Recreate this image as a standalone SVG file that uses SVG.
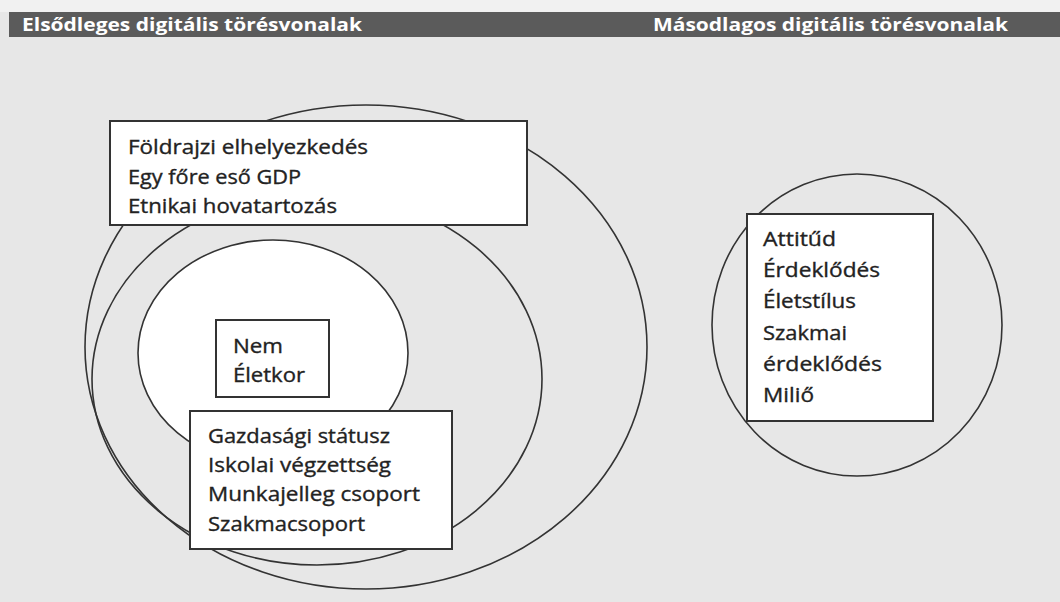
<svg xmlns="http://www.w3.org/2000/svg" width="1060" height="602" viewBox="0 0 1060 602">
  <style>
    .bg { fill: #e7e7e7; }
    .ring { fill: none; stroke: #333333; stroke-width: 1.6; }
    .core { fill: #ffffff; stroke: #333333; stroke-width: 1.6; }
    .box { fill: #ffffff; stroke: #333333; stroke-width: 2; }
    .t { font-family: "Open Sans", "Noto Sans", "Liberation Sans", sans-serif; font-size: 20px; fill: #222222; stroke: #222222; stroke-width: 0.35; }
    .h { font-family: "Open Sans", "Noto Sans", "Liberation Sans", sans-serif; font-size: 18px; font-weight: bold; fill: #ffffff; }
  </style>
  <rect class="bg" x="0" y="0" width="1060" height="602"/>
  <rect x="0" y="0" width="1060" height="12" fill="#f1f1f1"/>
  <g id="header">
    <rect x="9" y="12" width="1051" height="25" fill="#5b5b5b"/>
    <text class="h" x="22" y="31" textLength="340" lengthAdjust="spacingAndGlyphs">Elsődleges digitális törésvonalak</text>
    <text class="h" x="653" y="31" textLength="355" lengthAdjust="spacingAndGlyphs">Másodlagos digitális törésvonalak</text>
  </g>
  <g id="outer-ring">
    <ellipse class="ring" cx="366" cy="347" rx="281" ry="242"/>
  </g>
  <g id="middle-ring">
    <ellipse class="ring" cx="317" cy="379" rx="225" ry="186"/>
  </g>
  <g id="inner-core">
    <ellipse class="core" cx="273" cy="353" rx="135" ry="113"/>
  </g>
  <g id="secondary-ring">
    <ellipse class="ring" cx="857" cy="325" rx="145" ry="151"/>
  </g>
  <g id="node-geo">
    <rect class="box" x="110" y="121" width="417" height="104"/>
    <text class="t" x="128" y="154" textLength="240" lengthAdjust="spacingAndGlyphs">Földrajzi elhelyezkedés</text>
    <text class="t" x="128" y="184" textLength="173" lengthAdjust="spacingAndGlyphs">Egy főre eső GDP</text>
    <text class="t" x="128" y="213" textLength="209" lengthAdjust="spacingAndGlyphs">Etnikai hovatartozás</text>
  </g>
  <g id="node-core">
    <rect class="box" x="216" y="320" width="113" height="77"/>
    <text class="t" x="233" y="353" textLength="50" lengthAdjust="spacingAndGlyphs">Nem</text>
    <text class="t" x="233" y="382" textLength="72" lengthAdjust="spacingAndGlyphs">Életkor</text>
  </g>
  <g id="node-econ">
    <rect class="box" x="190" y="411" width="262" height="138"/>
    <text class="t" x="208" y="443" textLength="182" lengthAdjust="spacingAndGlyphs">Gazdasági státusz</text>
    <text class="t" x="208" y="472" textLength="183" lengthAdjust="spacingAndGlyphs">Iskolai végzettség</text>
    <text class="t" x="208" y="501" textLength="212" lengthAdjust="spacingAndGlyphs">Munkajelleg csoport</text>
    <text class="t" x="208" y="531" textLength="157" lengthAdjust="spacingAndGlyphs">Szakmacsoport</text>
  </g>
  <g id="node-secondary">
    <rect class="box" x="747" y="214" width="186" height="207"/>
    <text class="t" x="763" y="246" textLength="73" lengthAdjust="spacingAndGlyphs">Attitűd</text>
    <text class="t" x="763" y="277" textLength="117" lengthAdjust="spacingAndGlyphs">Érdeklődés</text>
    <text class="t" x="763" y="308" textLength="93" lengthAdjust="spacingAndGlyphs">Életstílus</text>
    <text class="t" x="763" y="340" textLength="84" lengthAdjust="spacingAndGlyphs">Szakmai</text>
    <text class="t" x="763" y="371" textLength="119" lengthAdjust="spacingAndGlyphs">érdeklődés</text>
    <text class="t" x="763" y="402" textLength="51" lengthAdjust="spacingAndGlyphs">Miliő</text>
  </g>
  <g id="connectors"/>
</svg>
